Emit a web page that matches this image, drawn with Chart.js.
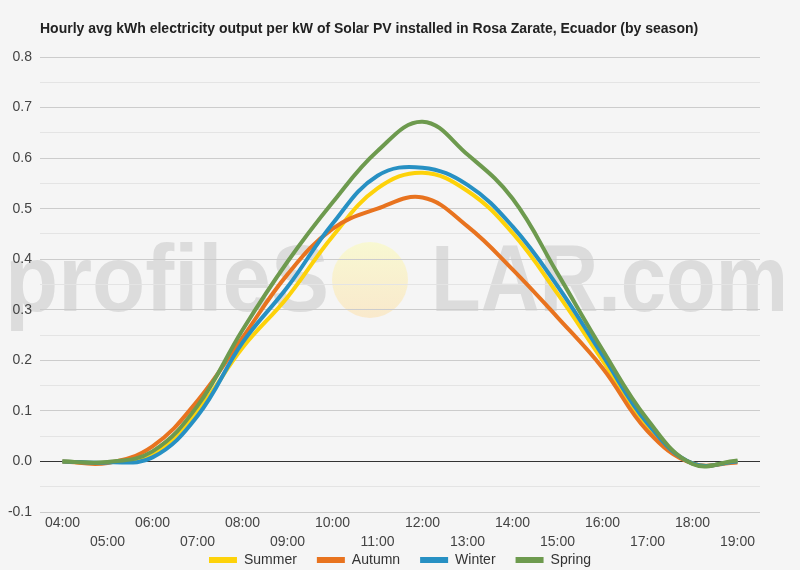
<!DOCTYPE html>
<html>
<head>
<meta charset="utf-8">
<script src="https://cdn.jsdelivr.net/npm/chart.js@4/dist/chart.umd.min.js"></script>
<style>
  html, body { margin: 0; padding: 0; background: #f5f5f5; }
  #wrap { width: 800px; height: 570px; position: relative; }
</style>
</head>
<body>
<div id="wrap"><canvas id="c" width="800" height="570"></canvas></div>
<script>
const titleText = 'Hourly avg kWh electricity output per kW of Solar PV installed in Rosa Zarate, Ecuador (by season)';
const hours = ['04:00','05:00','06:00','07:00','08:00','09:00','10:00','11:00','12:00','13:00','14:00','15:00','16:00','17:00','18:00','19:00'];
const seasonNames = ['Summer','Autumn','Winter','Spring'];
const summer = [0, -0.002, 0.015, 0.100, 0.225, 0.325, 0.445, 0.540, 0.571, 0.535, 0.452, 0.332, 0.200, 0.070, -0.004, 0.000];
const autumn = [0, -0.003, 0.030, 0.120, 0.245, 0.370, 0.460, 0.500, 0.522, 0.465, 0.380, 0.285, 0.185, 0.060, -0.004, -0.002];
const winter = [0, -0.002, 0.008, 0.090, 0.235, 0.345, 0.470, 0.565, 0.581, 0.547, 0.465, 0.347, 0.210, 0.075, -0.004, 0.000];
const spring = [0, -0.001, 0.020, 0.110, 0.260, 0.395, 0.512, 0.614, 0.672, 0.607, 0.520, 0.372, 0.221, 0.083, -0.005, 0.002];
const yMin = -0.1, yMax = 0.8, yStep = 0.05;

const colors = ['#FDD20A', '#E8731F', '#2790C3', '#6D9A4E'];
const seriesData = [summer, autumn, winter, spring];
const FONT = '"Liberation Sans", Arial, sans-serif';

const watermark = {
  id: 'watermark',
  beforeDraw(chart) {
    // place legend just under the two rows of hour labels
    const lg = chart.legend;
    if (lg) {
      const h = lg.bottom - lg.top;
      lg.top = chart.chartArea.bottom + 21;
      lg.bottom = lg.top + h;
    }
    const ctx = chart.ctx;
    ctx.save();
    ctx.fillStyle = '#dcdcdc';
    ctx.font = 'bold 94px ' + FONT;
    ctx.textBaseline = 'alphabetic';
    const drawFit = (txt, x0, x1, base) => {
      const w = ctx.measureText(txt).width;
      ctx.save();
      ctx.translate(x0, base);
      ctx.scale((x1 - x0) / w, 1);
      ctx.fillText(txt, 0, 0);
      ctx.restore();
    };
    drawFit('profileS', 5, 329, 311);
    drawFit('LAR.com', 431, 788, 311);
    const g = ctx.createLinearGradient(0, 242, 0, 318);
    g.addColorStop(0, '#f8f8d2');
    g.addColorStop(1, '#f9e9cc');
    ctx.fillStyle = g;
    ctx.beginPath();
    ctx.ellipse(370, 280, 38, 38, 0, 0, Math.PI * 2);
    ctx.fill();
    ctx.restore();
  }
};

const titlePlugin = {
  id: 'titleText',
  afterDraw(chart) {
    const ctx = chart.ctx;
    ctx.save();
    ctx.fillStyle = '#222';
    ctx.font = 'bold 14px ' + FONT;
    ctx.textBaseline = 'middle';
    ctx.textAlign = 'left';
    ctx.fillText(titleText, 40, 29);
    ctx.restore();
  }
};

new Chart(document.getElementById('c'), {
  type: 'line',
  data: {
    labels: hours,
    datasets: seriesData.map((d, i) => ({
      label: seasonNames[i],
      data: d,
      borderColor: colors[i],
      backgroundColor: colors[i],
      borderWidth: 4,
      pointRadius: 0,
      pointHoverRadius: 0,
      tension: 0.4,
      fill: false,
      order: 4 - i
    }))
  },
  options: {
    responsive: false,
    animation: false,
    devicePixelRatio: 1,
    layout: { padding: { left: 0, right: 0, top: 57, bottom: -26 } },
    plugins: {
      legend: {
        position: 'bottom',
        labels: {
          boxWidth: 28,
          boxHeight: 6,
          padding: 20,
          color: '#333',
          font: { size: 14, family: FONT },
          sort: (a, b) => a.datasetIndex - b.datasetIndex,
          generateLabels(chart) {
            const items = Chart.defaults.plugins.legend.labels.generateLabels(chart);
            items.forEach(it => { it.lineWidth = 0; it.strokeStyle = 'rgba(0,0,0,0)'; });
            return items;
          }
        }
      },
      title: { display: false },
      tooltip: { enabled: false }
    },
    scales: {
      x: {
        offset: true,
        afterFit(scale) { scale.height = 40; },
        grid: { display: false, drawTicks: false },
        border: { display: false },
        ticks: {
          autoSkip: false,
          maxRotation: 0,
          padding: 2,
          color: '#444',
          font: { size: 14, family: FONT, lineHeight: '19px' },
          callback: function(v, i) { const l = this.getLabelForValue(v); return i % 2 === 0 ? l : ['', l]; }
        }
      },
      y: {
        min: yMin,
        max: yMax,
        afterFit(scale) { scale.width = 40; },
        border: { display: false },
        grid: {
          drawTicks: false,
          color: (c) => {
            const v = Math.round(c.tick.value * 100);
            if (v === 0) return '#333';
            return v % 10 === 0 ? '#cccccc' : '#e4e4e4';
          }
        },
        ticks: {
          stepSize: yStep,
          padding: 8,
          color: '#444',
          font: { size: 14, family: FONT },
          callback: (v) => { const r = Math.round(v * 100); return r % 10 === 0 ? (r / 100).toFixed(1) : ''; }
        }
      },
      y2: {
        position: 'right',
        min: yMin,
        max: yMax,
        afterFit(scale) { scale.width = 40; },
        border: { display: false },
        grid: { display: false, drawTicks: false },
        ticks: { display: false }
      }
    }
  },
  plugins: [watermark, titlePlugin]
});
</script>
</body>
</html>
